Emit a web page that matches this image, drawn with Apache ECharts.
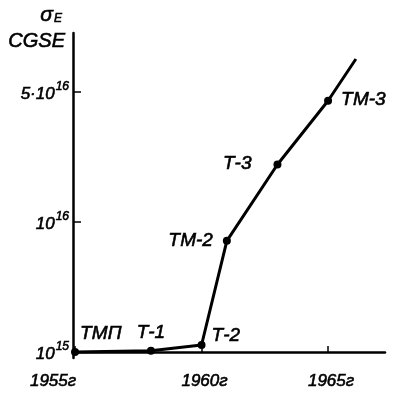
<!DOCTYPE html>
<html><head><meta charset="utf-8">
<script src="https://cdn.jsdelivr.net/npm/echarts@6/dist/echarts.min.js"></script>
<style>html,body{margin:0;padding:0;background:#fff}#c{width:399px;height:393px}</style>
</head><body><div id="c"></div>
<script>
// data (y in "plot units": 0 = 10^15, 1 = 10^16, 2 = 5·10^16 as printed on the original axis)
const years = [1955, 1958, 1960, 1961, 1963, 1965, 1966.1];
const sigma = [0.0, 0.01, 0.054, 0.854, 1.44, 1.93, 2.25];
const names = ['ТМП', 'Т-1', 'Т-2', 'ТМ-2', 'Т-3', 'ТМ-3', ''];
const xTicks = [1955, 1960, 1965];
const xTickLabels = ['1955г', '1960г', '1965г'];
const yTicks = [0, 1, 2];
const yTickLabels = [['10', '15'], ['10', '16'], ['5·10', '16']];

const FONT = 'Liberation Sans';
const labelPos = {
  'ТМП': {position: 'insideBottomLeft', offset: [4, -8]},
  'Т-1': {position: 'top', offset: [0, 1]},
  'Т-2': {position: 'right', offset: [1, -9]},
  'ТМ-2': {position: 'left', offset: [-5, 0]},
  'Т-3': {position: 'left', offset: [-17, -1]},
  'ТМ-3': {position: 'right', offset: [4, -1]}
};
const data = years.map((y, i) => {
  const d = {value: [y, sigma[i]], name: names[i]};
  if (!names[i]) { d.symbol = 'none'; d.label = {show: false}; }
  else {
    const lp = labelPos[names[i]];
    d.label = {show: true, formatter: names[i], position: 'right', ...lp};
  }
  return d;
});

const txt = {fontFamily: FONT, fontStyle: 'italic', color: '#000', textBorderColor: '#000', textBorderWidth: 0.6};
const chart = echarts.init(document.getElementById('c'));
chart.setOption({
  animation: false,
  backgroundColor: '#fff',
  grid: {left: 73, right: 14, top: 33, bottom: 35},
  xAxis: {
    type: 'value', min: 1954.92, max: 1967.25,
    axisLine: {lineStyle: {color: '#000', width: 2.5}},
    axisTick: {show: true, inside: true, length: 6, lineStyle: {color: '#000', width: 1.5}, customValues: xTicks},
    splitLine: {show: false},
    axisLabel: {
      customValues: xTicks, margin: 15,
      formatter: v => {
        const i = xTicks.indexOf(Math.round(v));
        const t = xTickLabels[i];
        return i === 0 ? '{a|' + t + '}' : '{b|' + t + '}';
      },
      rich: {
        a: {...txt, fontSize: 17, padding: [0, 44, 0, 0]},
        b: {...txt, fontSize: 17, padding: [0, 0, 0, 6]}
      }
    }
  },
  yAxis: {
    type: 'value', min: -0.046, max: 2.45,
    axisLine: {show: true, lineStyle: {color: '#000', width: 2.5}},
    axisTick: {show: true, inside: true, length: 8, lineStyle: {color: '#000', width: 1.5}, customValues: [1, 2]},
    splitLine: {show: false},
    axisLabel: {
      customValues: yTicks, margin: 4,
      formatter: v => {
        const i = yTicks.indexOf(Math.round(v));
        const p = yTickLabels[i];
        return '{m|' + p[0] + '}{s|' + p[1] + '}';
      },
      rich: {
        m: {...txt, fontSize: 17, verticalAlign: 'bottom'},
        s: {...txt, fontSize: 12, verticalAlign: 'top', padding: [0, 0, 10, 1]}
      }
    }
  },
  graphic: [
    {type: 'text', left: 40, top: 4, style: {text: '{g|σ}{e|E}', rich: {
      g: {fontFamily: FONT, fontStyle: 'italic', fontSize: 21, fill: '#000', stroke: '#000', lineWidth: 0.6},
      e: {fontFamily: FONT, fontStyle: 'italic', fontSize: 12, fill: '#000', stroke: '#000', lineWidth: 0.6, padding: [8, 0, 0, 1]}
    }}},
    {type: 'text', left: 8, top: 31, style: {text: 'CGSE', fontFamily: FONT, fontStyle: 'italic', fontSize: 20, fill: '#000', stroke: '#000', lineWidth: 0.6}}
  ],
  series: [{
    type: 'line', data: data,
    symbol: 'circle', symbolSize: 8,
    lineStyle: {color: '#000', width: 3},
    itemStyle: {color: '#000'},
    label: {...txt, fontSize: 19}
  }]
});
</script></body></html>
